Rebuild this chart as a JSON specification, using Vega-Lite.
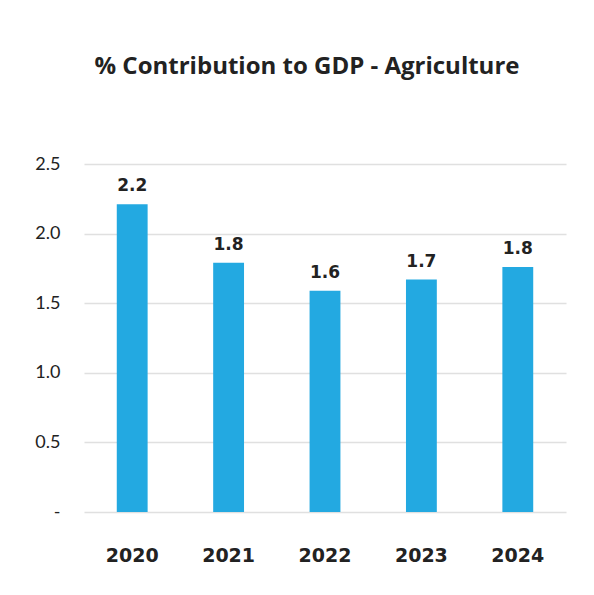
{
  "$schema": "https://vega.github.io/schema/vega-lite/v6.json",
  "width": 482,
  "height": 348,
  "autosize": {"type": "none"},
  "padding": {"left": 84, "top": 164, "right": 28, "bottom": 83},
  "background": "white",
  "title": {
    "text": "% Contribution to GDP - Agriculture",
    "font": "Open Sans",
    "fontSize": 24,
    "fontWeight": "bold",
    "color": "#222222",
    "anchor": "middle",
    "dx": -18,
    "offset": 76
  },
  "data": {
    "values": [
      {"year": "2020", "value": 2.21},
      {"year": "2021", "value": 1.79},
      {"year": "2022", "value": 1.59},
      {"year": "2023", "value": 1.67},
      {"year": "2024", "value": 1.76}
    ]
  },
  "encoding": {
    "x": {
      "field": "year",
      "type": "nominal",
      "scale": {"paddingInner": 0.68, "paddingOuter": 0.34},
      "axis": {
        "title": null,
        "labelAngle": 0,
        "labelFont": "DejaVu Sans",
        "labelFontSize": 19,
        "labelFontWeight": "bold",
        "labelColor": "#222222",
        "labelPadding": 34,
        "domain": false,
        "ticks": false
      }
    },
    "y": {
      "field": "value",
      "type": "quantitative",
      "scale": {"domain": [0, 2.5], "nice": false},
      "axis": {
        "title": null,
        "values": [0, 0.5, 1, 1.5, 2, 2.5],
        "labelExpr": "datum.value == 0 ? '-' : format(datum.value, '.1f')",
        "labelFont": "Lato",
        "labelFontSize": 18,
        "labelColor": "#222222",
        "labelPadding": 24,
        "domain": false,
        "ticks": false,
        "gridColor": "#e0e0e0",
        "gridWidth": 1.5
      }
    }
  },
  "layer": [
    {
      "mark": {"type": "bar", "color": "#23A9E1"}
    },
    {
      "mark": {"type": "text", "dy": -18, "font": "DejaVu Sans", "fontSize": 17, "fontWeight": "bold", "color": "#222222"},
      "encoding": {
        "text": {"field": "value", "type": "quantitative", "format": ".1f"}
      }
    }
  ],
  "config": {
    "view": {"stroke": null}
  }
}
